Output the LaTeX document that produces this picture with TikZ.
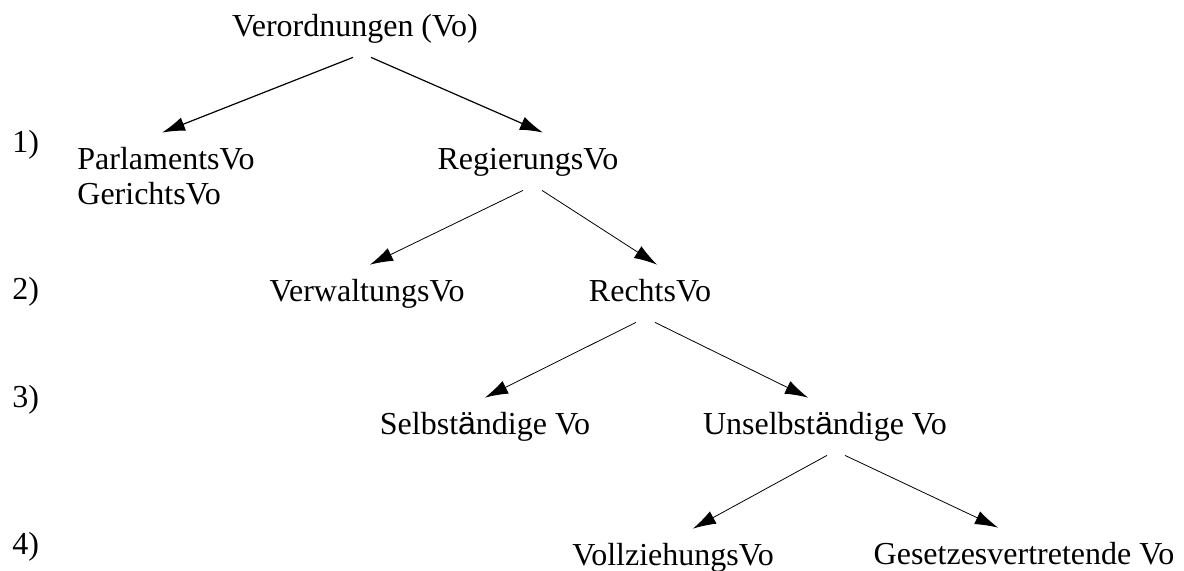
\documentclass[tikz,border=0pt]{standalone}
\usepackage{fontspec}
\setmainfont{Liberation Serif}
\newfontfamily\umlfont{Liberation Sans}
\usepackage{tikz}
\usetikzlibrary{arrows.meta}
\tikzset{>={Latex[length=11.5pt,width=7pt]}}
\newcommand{\uml}{{\umlfont ä}}

\begin{document}
\begin{tikzpicture}[x=0.5pt, y=-0.5pt,
    lbl/.style={inner xsep=0pt, inner ysep=6.5pt, text height=12pt, text depth=3.5pt, anchor=base},
    arr/.style={->, line width=0.4pt}]
            \useasboundingbox (0,0) rectangle (1184,571);
            \fontsize{16}{18}\selectfont

            % levels
            \foreach \n/\y in {1/153,2/300,3/408,4/555}
            {
            \node[lbl, anchor=base west] (lev\n) at (12,\y) {\n)};
            }

            \node[lbl] (verord) at (355,37) {Verordnungen (Vo)};
            \node[lbl, anchor=base west] (parlam) at (77,170) {ParlamentsVo};
            \node[lbl, anchor=base west] (gericht) at (77,205) {GerichtsVo};
            \node[lbl] (regier) at (528,170) {RegierungsVo};
            \node[lbl] (verwalt) at (367,302) {VerwaltungsVo};
            \node[lbl] (rechts) at (650,302) {RechtsVo};
            \node[lbl] (selbst) at (485,435) {Selbst\uml ndige Vo};
            \node[lbl] (unselbst) at (825,435) {Unselbst\uml ndige Vo};
            \node[lbl] (vollz) at (673,566) {VollziehungsVo};
            \node[lbl] (gesetz) at (1024,565) {Gesetzesvertretende Vo};

            \draw[arr, line width=0.6pt] ([xshift=-1pt]verord.south) -- ([xshift=-2pt]parlam.north);
            \draw[arr, line width=0.6pt] ([xshift=8pt]verord.south) -- ([xshift=7.5pt]regier.north);
            \draw[arr] ([xshift=-2.5pt]regier.south) -- ([xshift=1.5pt]verwalt.north);
            \draw[arr] ([xshift=7pt]regier.south) -- ([xshift=3.5pt]rechts.north);
            \draw[arr] ([xshift=-7pt]rechts.south) -- (selbst.north);
            \draw[arr] ([xshift=2.5pt]rechts.south) -- ([xshift=-8.5pt]unselbst.north);
            \draw[arr] ([xshift=1pt]unselbst.south) -- ([xshift=10pt]vollz.north);
            \draw[arr] ([xshift=10pt]unselbst.south) -- ([xshift=-13pt]gesetz.north);
        \end{tikzpicture}
\end{document}
